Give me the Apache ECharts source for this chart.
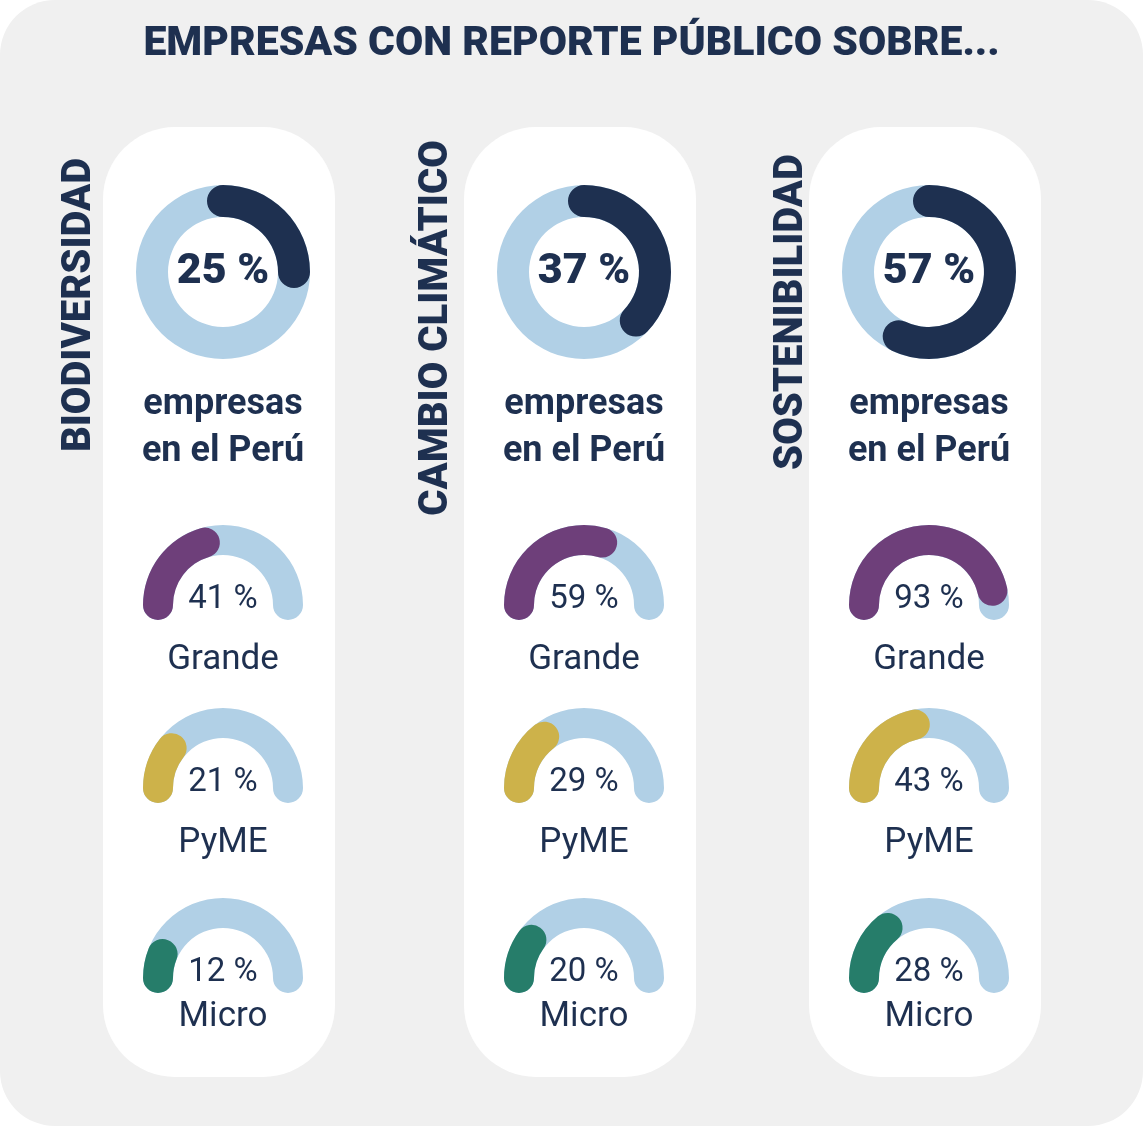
<!DOCTYPE html>
<html>
<head>
<meta charset="utf-8">
<script src="https://cdn.jsdelivr.net/npm/echarts@6/dist/echarts.min.js"></script>
<style>
html, body { margin: 0; padding: 0; background: #ffffff; }
#chart { width: 1143px; height: 1126px; }
</style>
</head>
<body>
<div id="chart"></div>
<script>
var title = 'EMPRESAS CON REPORTE PÚBLICO SOBRE...';
var topics = ['BIODIVERSIDAD', 'CAMBIO CLIMÁTICO', 'SOSTENIBILIDAD'];
var overall = [25, 37, 57];
var sizes = ['Grande', 'PyME', 'Micro'];
var grande = [41, 59, 93];
var pyme = [21, 29, 43];
var micro = [12, 20, 28];

var navy = '#1e3050';
var track = '#b1d0e6';
var sizeColors = ['#6e3f7a', '#cdb24a', '#267d6a'];
var font = 'Roboto';

var colX = [223, 584, 929];
var labelX = [80, 437, 792];
var labelY = [305, 328, 312];
var rowY = [605, 788, 978];
var rowLabelY = [660, 843, 1017];

var series = [];
var graphic = [
	{ type: 'rect', z: -10, shape: { x: 0, y: 0, width: 1143, height: 1126, r: 55 }, style: { fill: '#f0f0f0' } },
	{ type: 'text', left: 'center', top: 24, style: { text: title, font: '900 41px ' + font, fill: navy } }
];

function gaugeBase(cx, cy, r, w, start, end, value, color) {
	return {
		type: 'gauge',
		center: [cx, cy],
		radius: r,
		startAngle: start,
		endAngle: end,
		min: 0,
		max: 100,
		pointer: { show: false },
		axisTick: { show: false },
		splitLine: { show: false },
		axisLabel: { show: false },
		title: { show: false },
		anchor: { show: false },
		axisLine: { roundCap: true, lineStyle: { width: w, color: [[1, track]] } },
		progress: { show: true, roundCap: true, width: w, itemStyle: { color: color } },
		data: [{ value: value }]
	};
}

for (var i = 0; i < topics.length; i++) {
	graphic.push({ type: 'rect', z: -5, shape: { x: colX[i] - 120, y: 127, width: 232, height: 950, r: 72 }, style: { fill: '#ffffff' } });
	graphic.push({ type: 'text', x: labelX[i], y: labelY[i], rotation: Math.PI / 2,
		style: { text: topics[i], font: '900 40px ' + font, fill: navy, align: 'center', verticalAlign: 'middle' } });
	graphic.push({ type: 'text', x: colX[i], y: 428,
		style: { text: 'empresas\nen el Perú', font: 'bold 36px ' + font, lineHeight: 47, fill: navy, align: 'center', verticalAlign: 'middle' } });

	var big = gaugeBase(colX[i], 272, 87, 32, 90, -270, overall[i], navy);
	big.axisLine.roundCap = false;
	big.detail = { offsetCenter: [0, 0], formatter: '{value} %', fontFamily: font, fontWeight: 900, fontSize: 43, color: navy };
	series.push(big);

	var vals = [grande[i], pyme[i], micro[i]];
	for (var j = 0; j < 3; j++) {
		var g = gaugeBase(colX[i], rowY[j], 80, 30, 180, 0, vals[j], sizeColors[j]);
		g.detail = { offsetCenter: [0, -5], formatter: '{value} %', fontFamily: font, fontWeight: 'normal', fontSize: 33, color: navy };
		series.push(g);
		graphic.push({ type: 'text', x: colX[i], y: rowLabelY[j],
			style: { text: sizes[j], font: '35px ' + font, fill: navy, align: 'center', verticalAlign: 'middle' } });
	}
}

var chart = echarts.init(document.getElementById('chart'));
chart.setOption({ animation: false, graphic: graphic, series: series });
</script>
</body>
</html>
